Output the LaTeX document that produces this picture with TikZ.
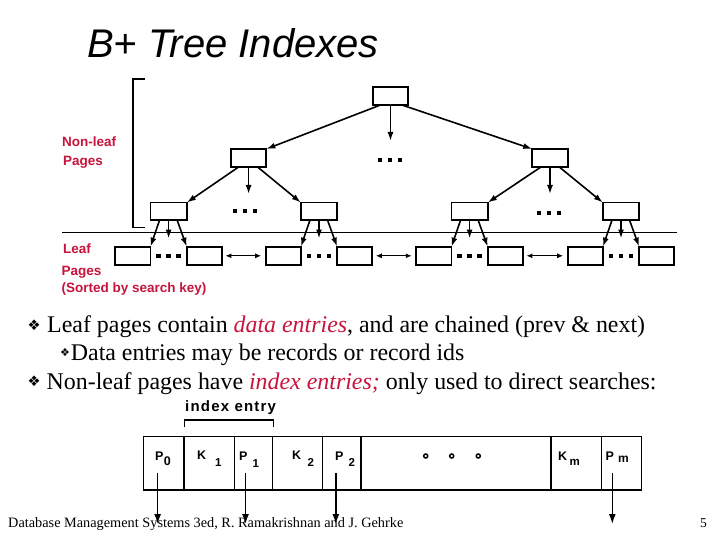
\documentclass[tikz,border=0pt]{standalone}
\usepackage{fontspec}
\setmainfont{Liberation Serif}
\setsansfont{Liberation Sans}
\newfontfamily\symfont{DejaVu Sans}
\usetikzlibrary{arrows.meta}
\definecolor{slidered}{RGB}{200,20,60}
\begin{document}
\begin{tikzpicture}[x=1pt,y=-1pt,
  box/.style={draw, line width=1.8pt, minimum width=35.5pt, minimum height=18pt, inner sep=0pt, outer sep=0pt},
  lvthree/.style={box, minimum width=36.4pt, minimum height=17.5pt},
  leafbox/.style={box, minimum width=35.2pt, minimum height=18.3pt},
  arr/.style={-{Latex[length=9pt,width=6pt]}, line width=1.6pt},
  dbl/.style={{Latex[length=6pt,width=5pt]}-{Latex[length=6pt,width=5pt]}, line width=1.2pt},
  lab/.style={font=\sffamily\bfseries\fontsize{13.5}{16}\selectfont, text=slidered, inner sep=0pt, anchor=base west},
  body/.style={font=\fontsize{23.9}{28}\selectfont, inner sep=0pt, anchor=base west},
  cell/.style={draw, line width=1.4pt, minimum height=53.3pt, inner sep=0pt, outer sep=0pt, anchor=west},
  cl/.style={font=\sffamily\bfseries\fontsize{12.5}{14}\selectfont, inner sep=0pt, anchor=base west},
  parr/.style={-{Latex[length=10pt,width=7pt]}, line width=1.5pt},
  bul/.style={inner sep=0pt}
]
\useasboundingbox[fill=white] (0,0) rectangle (720,540);

% title
\node[font=\sffamily\itshape\fontsize{40}{46}\selectfont, inner sep=0pt, anchor=base west] (title) at (87,58) {B+ Tree Indexes};

% tree nodes
\node[box, minimum width=35pt] (root) at (390.5,96) {};
\node[box] (l2a) at (248.6,158) {};
\node[box] (l2b) at (550,158) {};
\node[lvthree] (l3a) at (168.6,211.3) {};
\node[lvthree] (l3b) at (319,211.3) {};
\node[lvthree] (l3c) at (469.6,211.3) {};
\node[lvthree] (l3d) at (621,211.3) {};
\node[leafbox] (f1) at (132.9,255.8) {};
\node[leafbox] (f2) at (204.3,255.8) {};
\node[leafbox] (f3) at (283.3,255.8) {};
\node[leafbox] (f4) at (354.7,255.8) {};
\node[leafbox] (f5) at (433.9,255.8) {};
\node[leafbox] (f6) at (505.3,255.8) {};
\node[leafbox] (f7) at (585.3,255.8) {};
\node[leafbox] (f8) at (656.7,255.8) {};

% root arrows
\draw[arr] ([xshift=-10pt]root.south) -- (l2a.north east);
\draw[arr] (root.south) -- ++(0,36);
\draw[arr] ([xshift=11.5pt]root.south) -- (l2b.north west);
% level 2 arrows
\draw[arr] ([xshift=-10pt]l2a.south) -- (l3a.north east);
\draw[arr] (l2a.south) -- ++(0,27);
\draw[arr] ([xshift=9pt]l2a.south) -- (l3b.north west);
\draw[arr] ([xshift=-9pt]l2b.south) -- (l3c.north east);
\draw[arr] (l2b.south) -- ++(0,27);
\draw[arr] ([xshift=9.3pt]l2b.south) -- (l3d.north west);
% level 3 arrows
\foreach \p/\l/\r in {l3a/f1/f2, l3b/f3/f4, l3c/f5/f6, l3d/f7/f8}{
  \draw[arr] ([xshift=-9pt]\p.south) -- (\l.north east);
  \draw[arr] (\p.south) -- ++(0,18.5);
  \draw[arr] ([xshift=8.5pt]\p.south) -- (\r.north west);
}
% leaf chain arrows
\draw[dbl] ([xshift=3.5pt]f2.east) -- ([xshift=-4.5pt]f3.west);
\draw[dbl] ([xshift=3.5pt]f4.east) -- ([xshift=-4.5pt]f5.west);
\draw[dbl] ([xshift=3.5pt]f6.east) -- ([xshift=-4.5pt]f7.west);

% dots
\foreach \cx/\cy in {390/160, 245/211, 549/213, 168.6/255.7, 319/255.7, 469.6/255.7, 621/255.7}{
  \foreach \d in {-10,0,10}{
    \fill ({\cx+\d-2.2},{\cy-1.8}) rectangle ({\cx+\d+2.2},{\cy+1.8});
  }
}

% separator line and bracket
\draw[line width=1.5pt] (62,232.7) -- (677,232.7);
\draw[line width=1.8pt] (145,79) -- (133,79) -- (133,227.5) -- (145,227.5);

% red labels
\node[lab] (nl1) at (62,146.7) {Non-leaf};
\node[lab] (nl2) at (63,166) {Pages};
\node[lab] (lf1) at (63,253.3) {Leaf};
\node[lab] (lf2) at (61.5,275) {Pages};
\node[lab] (lf3) at (61.5,292.5) {(Sorted by search key)};

% bullets
\node[bul, font=\symfont\fontsize{14.5}{14.5}\selectfont] (bu1) at (34,325) {❖};
\node[body] (t1) at (47,332.7) {Leaf pages contain \textcolor{slidered}{\textit{data entries}}, and are chained (prev \& next)};
\node[bul, font=\symfont\fontsize{11}{11}\selectfont] (bu2) at (65,353) {❖};
\node[body] (t2) at (70.7,360) {Data entries may be records or record ids};
\node[bul, font=\symfont\fontsize{14.5}{14.5}\selectfont] (bu3) at (34,381) {❖};
\node[body] (t3) at (46.5,389) {Non-leaf pages have \textcolor{slidered}{\textit{index entries;}} only used to direct searches:};

% index entry label and bracket
\node[font=\sffamily\bfseries\fontsize{15}{18}\selectfont\addfontfeature{LetterSpace=8}, inner sep=0pt, anchor=base west] (ie) at (185,411.7) {index entry};
\draw[line width=1.5pt] (184.3,426.7) -- (184.3,420) -- (273.3,420) -- (273.3,426.7);

% index page cells
\node[cell, minimum width=40.7pt] (c0) at (143.3,463.35) {};
\node[cell, minimum width=50.3pt] (c1) at (c0.east) {};
\node[cell, minimum width=38.4pt] (c2) at (c1.east) {};
\node[cell, minimum width=50pt] (c3) at (c2.east) {};
\node[cell, minimum width=38.3pt] (c4) at (c3.east) {};
\node[cell, minimum width=190pt] (c5) at (c4.east) {};
\node[cell, minimum width=50.7pt] (c6) at (c5.east) {};
\node[cell, minimum width=40pt] (c7) at (c6.east) {};

% cell labels
\node[cl] (p0) at (155,460.5) {P\hspace{0.3pt}\raisebox{-4.5pt}{0}};
\node[cl] (k1) at (197,459.5) {K\hspace{9pt}\raisebox{-7pt}{\fontsize{11.5}{12}\selectfont 1}};
\node[cl] (p1) at (239,460.5) {P\hspace{5pt}\raisebox{-6.5pt}{\fontsize{11.5}{12}\selectfont 1}};
\node[cl] (k2) at (292,459.5) {K\hspace{6.5pt}\raisebox{-6.5pt}{\fontsize{11.5}{12}\selectfont 2}};
\node[cl] (p2) at (335,460) {P\hspace{5pt}\raisebox{-6pt}{\fontsize{11.5}{12}\selectfont 2}};
\node[cl] (km) at (558,460) {K\hspace{2.5pt}\raisebox{-5.5pt}{\fontsize{11.5}{12}\selectfont m}};
\node[cl] (pm) at (605.5,460) {P\hspace{4pt}\raisebox{-2pt}{\fontsize{12}{12}\selectfont m}};

% dots in the cell
\foreach \dx in {425.7,451.7,478.3}{
  \draw[line width=1.5pt] (\dx,456) circle (2pt);
}

% pointer arrows
\draw[parr] ([xshift=-6pt,yshift=17pt]c0.south) -- ++(0,51);
\draw[parr] ([xshift=-8pt,yshift=17pt]c2.south) -- ++(0,51);
\draw[parr] ([xshift=-6pt,yshift=17pt]c4.south) -- ++(0,51);
\draw[parr] ([xshift=-9.4pt,yshift=17pt]c7.south) -- ++(0,51);

% footer
\node[font=\fontsize{14.3}{16}\selectfont, inner sep=0pt, anchor=base west] (foot) at (8,527) {Database Management Systems 3ed, R. Ramakrishnan and J. Gehrke};
\node[font=\fontsize{13.5}{16}\selectfont, inner sep=0pt, anchor=base west] (pg) at (700,527) {5};
\end{tikzpicture}
\end{document}
